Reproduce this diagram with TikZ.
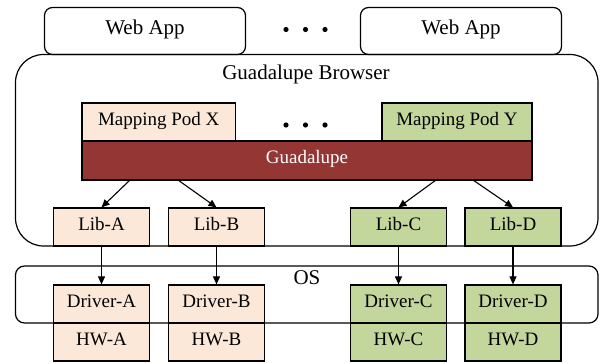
\documentclass[tikz,border=0pt]{standalone}
\usepackage{fontspec}
\setmainfont{Liberation Serif}
\usetikzlibrary{arrows.meta}

\definecolor{podpeach}{HTML}{FCE8D9}
\definecolor{podgreen}{HTML}{C3D69B}
\definecolor{guadred}{HTML}{943634}

\tikzset{
  lbl/.style={font=\fontsize{19}{22}\selectfont},
  hdr/.style={font=\fontsize{21}{24}\selectfont},
  box/.style={draw,line width=1.2pt,lbl,text height=0.66em,text depth=0pt,minimum height=38pt},
  xbox/.style={box,fill=podpeach},
  ybox/.style={box,fill=podgreen},
  app/.style={draw,line width=1.2pt,hdr,text height=0.66em,text depth=0pt,rounded corners=8pt,
    minimum width=201pt,minimum height=47pt},
  arr/.style={line width=1.1pt,-{Triangle[length=8pt,width=7pt]}}
}

\begin{document}
\begin{tikzpicture}[x=1pt,y=-1pt,inner sep=0pt]
\useasboundingbox (0,0) rectangle (600,362);

% outer layers
\node (browser) [draw,line width=1.2pt,rounded corners=28pt,minimum width=582.5pt,minimum height=191.5pt] at (306.75,150.25) {};
\node (brtitle) [hdr] at (306,74) {Guadalupe Browser};
\node (os) [draw,line width=1.2pt,rounded corners=9pt,minimum width=582.5pt,minimum height=57pt] at (306.75,294.5) {};
\node (ostitle) [hdr,text height=0.66em,text depth=0pt] at (307,281) {OS};

\node (appL) [app] at (145,31) {Web App};
\node (appR) [app] at (461,31) {Web App};

\node (podX) [xbox,minimum width=153.5pt] at (158.75,122) {Mapping Pod X};
\node (podY) [ybox,minimum width=150pt] at (457,122) {Mapping Pod Y};
\node (guad) [box,fill=guadred,text=white,minimum width=450pt,minimum height=39pt] at (307,160.5) {Guadalupe};

\foreach \dx in {286,305.5,325} {
  \fill (\dx,29.5) circle (2.6pt);
  \fill (\dx,125) circle (2.6pt);
}

% libs, drivers, hardware
\foreach \n/\px/\st in {A/101.5/xbox,B/216.5/xbox,C/398.5/ybox,D/513/ybox} {
  \node (lib\n) [\st,minimum width=96pt] at (\px,227) {Lib-\n};
  \node (drv\n) [\st,minimum width=96pt] at (\px,304) {Driver-\n};
  \node (hw\n) [\st,minimum width=96pt] at (\px,342) {HW-\n};
  \draw[arr] (lib\n) -- (drv\n);
}

\coordinate (gA) at (130,180);
\coordinate (gB) at (178,180);
\coordinate (gC) at (436,180);
\coordinate (gD) at (473,180);
\foreach \n in {A,B,C,D}
  \draw[arr] (g\n) -- (lib\n.north);
\end{tikzpicture}
\end{document}
